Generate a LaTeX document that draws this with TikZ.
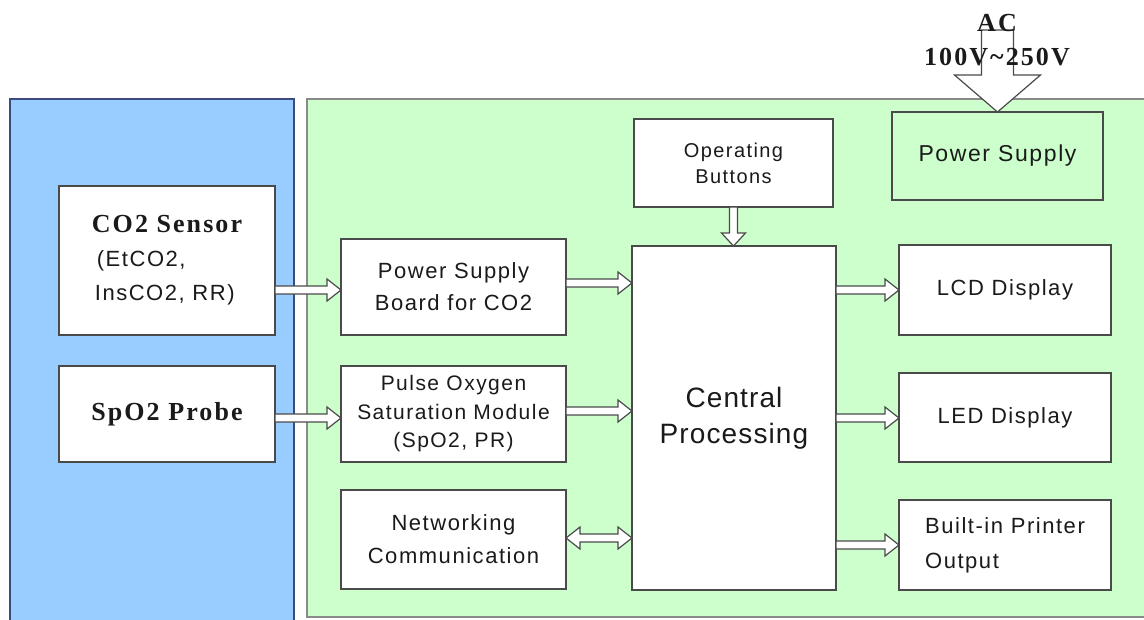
\documentclass[tikz,border=0pt]{standalone}
\usepackage{fontspec}
\setmainfont{Liberation Serif}
\newfontfamily\lblfont[LetterSpace=7]{Liberation Sans}
\newfontfamily\cpufont[LetterSpace=4]{Liberation Sans}
\newfontfamily\srffont[LetterSpace=8]{Liberation Serif}
\usetikzlibrary{calc}
\definecolor{pnblue}{HTML}{99CCFF}
\definecolor{pnblueline}{HTML}{3C4A80}
\definecolor{pngreen}{HTML}{CCFFCC}
\definecolor{pngreenline}{HTML}{8A8A8A}
\definecolor{bxline}{HTML}{4A4A4A}
\definecolor{txtblack}{HTML}{1A1A1A}
\tikzset{
  blk/.style   = {rectangle, draw=bxline, line width=1.4pt, fill=white,
                  inner sep=0pt, outer sep=0pt, align=center, text=txtblack,
                  font=\lblfont\fontsize{22}{32}\selectfont},
  fat/.style   = {draw=bxline, line width=1.2pt, fill=white, line join=miter},
  actxt/.style = {inner sep=0pt, text=txtblack,
                  font=\srffont\bfseries\fontsize{26}{30}\selectfont},
  rarr/.style n args={3}{to path={let \p1=(\tikztostart), \p2=(\tikztotarget) in
      (\x1,\y1+#1) -- (\x2-#3,\y1+#1) -- (\x2-#3,\y1+#2) -- (\x2,\y1)
      -- (\x2-#3,\y1-#2) -- (\x2-#3,\y1-#1) -- (\x1,\y1-#1) -- cycle}},
  darr/.style n args={3}{to path={let \p1=(\tikztostart), \p2=(\tikztotarget) in
      (\x1,\y1) -- (\x1+#3,\y1+#2) -- (\x1+#3,\y1+#1) -- (\x2-#3,\y1+#1)
      -- (\x2-#3,\y1+#2) -- (\x2,\y1) -- (\x2-#3,\y1-#2) -- (\x2-#3,\y1-#1)
      -- (\x1+#3,\y1-#1) -- (\x1+#3,\y1-#2) -- cycle}},
  varr/.style n args={3}{to path={let \p1=(\tikztostart), \p2=(\tikztotarget) in
      (\x1-#1,\y1) -- (\x1-#1,\y2+#3) -- (\x1-#2,\y2+#3) -- (\x1,\y2)
      -- (\x1+#2,\y2+#3) -- (\x1+#1,\y2+#3) -- (\x1+#1,\y1) -- cycle}},
}
\begin{document}
\begin{tikzpicture}[x=1pt,y=-1pt]
  \useasboundingbox (0,0) rectangle (1144,619);
  \draw[draw=pnblueline, fill=pnblue, line width=1.2pt] (10,99) rectangle (294,630);
  \draw[draw=pngreenline, fill=pngreen, line width=1.2pt] (307,99) rectangle (1160,617);

  \node[blk, align=left, minimum width=216pt, minimum height=149pt,
        font=\lblfont\fontsize{22}{34}\selectfont] (co2) at (167,260.5)
       {{\srffont\bfseries\fontsize{26}{34}\selectfont CO2 Sensor}\\
        \hspace*{5pt}(EtCO2,\\ \hspace*{3pt}InsCO2, RR)};
  \node[blk, minimum width=216pt, minimum height=96pt,
        font=\srffont\bfseries\fontsize{26}{34}\selectfont] (spo2) at (167,414) {SpO2 Probe};
  \node[blk, minimum width=225pt, minimum height=96pt] (psb) at (453.5,287)
       {Power Supply\\Board for CO2};
  \node[blk, minimum width=225pt, minimum height=96pt,
        font=\lblfont\fontsize{21}{28.5}\selectfont] (pulse) at (453.5,414)
       {Pulse Oxygen\\Saturation Module\\(SpO2, PR)};
  \node[blk, minimum width=225pt, minimum height=99pt,
        font=\lblfont\fontsize{22}{33}\selectfont] (net) at (453.5,539.5)
       {Networking\\Communication};
  \node[blk, minimum width=204pt, minimum height=344pt,
        font=\cpufont\fontsize{28}{36}\selectfont] (cpu) at (734,418)
       {Central\\Processing};
  \node[blk, minimum width=199pt, minimum height=88pt,
        font=\lblfont\fontsize{20}{26}\selectfont] (btn) at (733.5,163)
       {Operating\\Buttons};
  \node[blk, minimum width=211pt, minimum height=88pt, fill=pngreen,
        font=\lblfont\fontsize{23}{32}\selectfont] (psu) at (997.5,156) {Power Supply};
  \node[blk, minimum width=212pt, minimum height=90pt] (lcd) at (1005,290) {LCD Display};
  \node[blk, minimum width=212pt, minimum height=89pt] (led) at (1005,417.5) {LED Display};
  \node[blk, minimum width=212pt, minimum height=90pt, align=left,
        font=\lblfont\fontsize{22}{35}\selectfont] (prn) at (1005,545)
       {Built-in Printer\\Output};

  \draw[fat] (co2.east |- 0,290) to[rarr={4pt}{11pt}{14pt}] (psb.west |- 0,290);
  \draw[fat] (spo2.east |- 0,418) to[rarr={4pt}{11pt}{14pt}] (pulse.west |- 0,418);
  \draw[fat] (psb.east |- 0,283) to[rarr={4pt}{11pt}{14pt}] (cpu.west |- 0,283);
  \draw[fat] (pulse.east |- 0,411) to[rarr={4pt}{11pt}{14pt}] (cpu.west |- 0,411);
  \draw[fat] (net.east |- 0,538) to[darr={4pt}{11pt}{14pt}] (cpu.west |- 0,538);
  \draw[fat] (cpu.east |- 0,290) to[rarr={4pt}{11pt}{14pt}] (lcd.west |- 0,290);
  \draw[fat] (cpu.east |- 0,418) to[rarr={4pt}{11pt}{14pt}] (led.west |- 0,418);
  \draw[fat] (cpu.east |- 0,545) to[rarr={4pt}{11pt}{14pt}] (prn.west |- 0,545);
  \draw[fat] (btn.south) to[varr={4pt}{12pt}{13pt}] (cpu.north);

  \coordinate (acin) at (997.5,30);
  \draw[fat] (acin) to[varr={16pt}{43pt}{37pt}] (psu.north);
  \node[actxt, anchor=base] (actop) at (997,31) {AC};
  \node[actxt, anchor=base] (acrange) at (997,65) {100V\textasciitilde 250V};
\end{tikzpicture}
\end{document}
